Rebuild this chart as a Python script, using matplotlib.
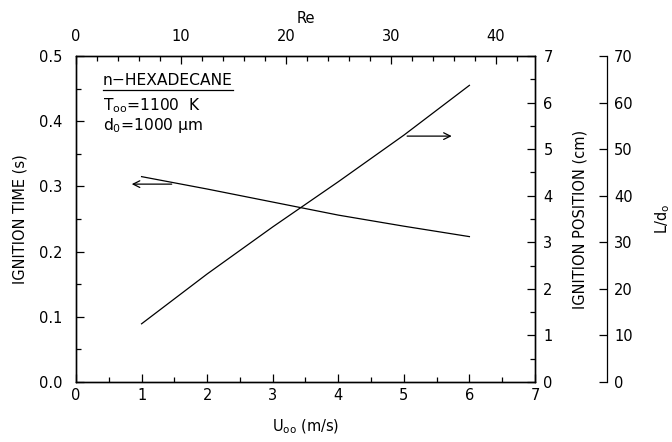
import matplotlib
matplotlib.use("Agg")
import matplotlib.pyplot as plt
from matplotlib.ticker import MultipleLocator

# ---- data ----
velocity = [1, 2, 3, 4, 5, 6]                              # U_oo (m/s)
ignition_time = [0.315, 0.296, 0.276, 0.256, 0.239, 0.223]  # s
ignition_position = [1.25, 2.32, 3.33, 4.30, 5.30, 6.37]    # cm
re_per_velocity = 6.25                                       # Re per (m/s)
d0_cm = 0.1                                                  # 1000 um

x_ticks = [0, 1, 2, 3, 4, 5, 6, 7]
time_ticks = [0.0, 0.1, 0.2, 0.3, 0.4, 0.5]
pos_ticks = [0, 1, 2, 3, 4, 5, 6, 7]
ld_ticks = [0, 10, 20, 30, 40, 50, 60, 70]
re_ticks = [0, 10, 20, 30, 40]

plt.rcParams['font.family'] = ['DejaVu Sans']
FS = 10.5
FS_ANN = 11.2
LW = 0.9

fig = plt.figure(figsize=(6.72, 4.42), dpi=100)
ax = fig.add_axes([0.1131, 0.1357, 0.6830, 0.7376])

ax.plot(velocity, ignition_time, color='black', lw=LW)
ax.set_xlim(0, 7)
ax.set_ylim(0, 0.5)
ax.set_xticks(x_ticks)
ax.set_yticks(time_ticks)
ax.set_yticklabels([f"{v:.1f}" for v in time_ticks])
ax.xaxis.set_minor_locator(MultipleLocator(0.5))
ax.yaxis.set_minor_locator(MultipleLocator(0.05))
ax.tick_params(which='both', direction='in', top=False, right=False,
               width=LW, labelsize=FS)
ax.tick_params(which='major', length=6)
ax.tick_params(which='minor', length=3.5)
ax.tick_params(axis='y', pad=10)
ax.tick_params(axis='x', pad=4)
for s in ax.spines.values():
    s.set_linewidth(LW)
ax.set_xlabel(r'U$_{\mathregular{oo}}$ (m/s)', fontsize=FS, labelpad=11)
ax.set_ylabel('IGNITION TIME (s)', fontsize=FS, labelpad=8)

# left arrow
ax.annotate('', xy=(0.85, 0.3035), xytext=(1.46, 0.3035),
            arrowprops=dict(arrowstyle='->', color='black', lw=LW,
                            mutation_scale=12, shrinkA=0, shrinkB=0))

# annotations
ax.text(0.41, 0.456, 'n\u2212HEXADECANE', fontsize=FS_ANN, va='baseline', ha='left')
ax.plot([0.41, 2.39], [0.448, 0.448], color='black', lw=LW, clip_on=False)
ax.text(0.41, 0.4165, r'T$_{\mathregular{oo}}$=1100  K', fontsize=FS_ANN, va='baseline', ha='left')
ax.text(0.41, 0.386, r'd$_{\mathregular{0}}$=1000 $\mathregular{\mu}$m', fontsize=FS_ANN, va='baseline', ha='left')

# top axis (Re)
axt = ax.twiny()
axt.set_xlim(0, 7 * re_per_velocity)
axt.set_xticks(re_ticks)
axt.xaxis.set_minor_locator(MultipleLocator(2))
axt.tick_params(which='both', direction='in', width=LW, labelsize=FS, pad=9)
axt.tick_params(which='major', length=6)
axt.tick_params(which='minor', length=3.5)
axt.set_xlabel('Re', fontsize=FS, labelpad=4)
for s in axt.spines.values():
    s.set_linewidth(LW)

# right axis (ignition position)
axr = ax.twinx()
axr.plot(velocity, ignition_position, color='black', lw=LW)
axr.set_ylim(0, 7)
axr.set_yticks(pos_ticks)
axr.yaxis.set_minor_locator(MultipleLocator(0.5))
axr.tick_params(which='both', direction='in', width=LW, labelsize=FS, pad=6)
axr.tick_params(which='major', length=6)
axr.tick_params(which='minor', length=3.5)
axr.set_ylabel('IGNITION POSITION (cm)', fontsize=FS, labelpad=14)
for s in axr.spines.values():
    s.set_linewidth(LW)
axr.annotate('', xy=(5.73, 5.28), xytext=(5.05, 5.28),
             arrowprops=dict(arrowstyle='->', color='black', lw=LW,
                             mutation_scale=12, shrinkA=0, shrinkB=0))

# second right axis (L/d0)
axl = ax.twinx()
axl.set_ylim(0, 7 / d0_cm)
axl.set_yticks(ld_ticks)
axl.spines['right'].set_position(('axes', 1.157))
for k in ['left', 'top', 'bottom']:
    axl.spines[k].set_visible(False)
axl.spines['right'].set_linewidth(LW)
axl.tick_params(which='both', direction='in', width=LW, labelsize=FS, length=6, pad=5)
axl.set_ylabel(r'L/d$_{\mathregular{o}}$', fontsize=FS, labelpad=15)

fig.savefig('out.png', dpi=100)
